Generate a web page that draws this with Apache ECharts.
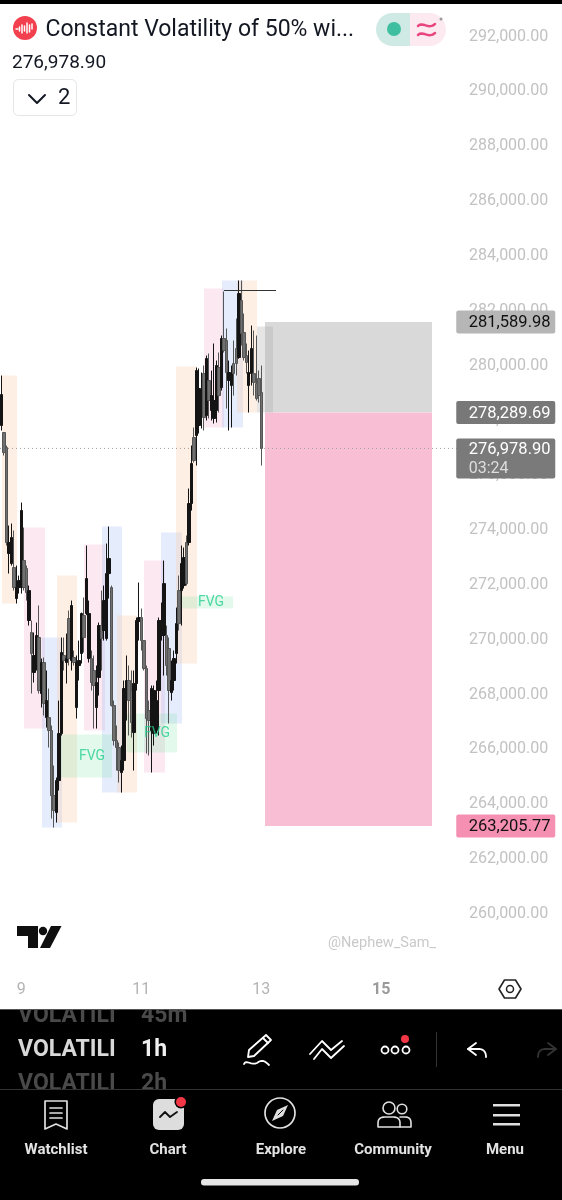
<!DOCTYPE html>
<html><head><meta charset="utf-8">
<style>html,body{margin:0;padding:0;background:#fff}#c{width:562px;height:1200px}</style>
<script src="https://cdn.jsdelivr.net/npm/echarts@6/dist/echarts.min.js"></script>
</head><body><div id="c"></div>
<script>
// ---- data ----
const priceTicksMin = 260000, priceTicksMax = 292000, priceStep = 2000;
const dayLabels = {8:'9', 56:'11', 104:'13', 152:'15'}; // candle slot -> day label
const slotCount = 183;
const opens = [277813,277558,277011,273145,272780,272634,271503,271905,271905,272889,272597,270702,270264,268806,269134,270082,268040,269170,267164,267164,266690,264319,263699,264866,266581,269426,269170,270775,269243,269353,267529,269061,269499,270884,270957,269316,269316,268879,267529,268623,270519,270337,270046,272415,271905,267602,266325,266070,265159,265596,268222,268514,268149,266617,268405,270666,270811,269972,268952,267419,266690,266581,266690,268149,270155,270155,270155,269681,268076,268514,269499,271795,271795,271978,273546,273546,274969,277376,277448,277813,278141,279709,278178,279454,278360,278069,278360,279928,279199,280986,280913,279454,279272,280074,280621,280293,282372,281205,280366,279272,279709,279709,279345,279527,279017];
const closes = [278943,276828,273546,273546,273729,271905,271905,272160,274713,271905,271722,271795,269499,269426,270155,268149,269170,267675,267784,266690,264319,263772,264866,266581,269535,269243,269316,269316,271249,269170,269170,269243,270957,270082,272233,270957,268441,268332,268441,270519,270046,271431,272415,272962,267602,266325,266070,265231,265596,268222,268514,267784,266982,268405,270702,270811,269972,268952,267128,267055,268222,268149,267784,270702,270702,272050,269061,268149,268514,269316,270592,270592,272780,272999,272050,274969,276427,276536,279819,279162,279090,278105,280256,278725,278907,278725,280001,278907,280986,280548,279746,279746,279709,279709,280074,282627,281168,280293,280110,279746,280621,279381,278798,278907,276978.9];
const lows = [277631,276719,273437,272415,272707,271795,271322,271686,271686,271795,271431,270519,268040,268441,268879,268040,267529,267237,266799,266070,263481,263152,263335,264502,266508,268879,268405,269061,268879,269061,267128,268514,269134,269535,270900,269170,268149,266763,266763,267966,268879,269972,269972,271503,267566,266143,265231,264794,264429,265231,267055,266508,266435,265231,268149,269972,269608,268879,265852,265779,265159,266143,266581,266508,269972,268696,268696,266946,267784,268149,269134,270337,270519,271868,271978,273437,274713,276463,276354,277521,277704,277631,277996,278069,277996,277886,277923,278287,279090,280475,278433,277631,277740,278907,279636,280250,280730,280183,279709,278287,279272,278907,278725,278652,276354];
const highs = [279636,277558,277084,274166,274239,273984,272707,272342,275005,274093,272707,271978,270702,270264,270629,271249,269316,269353,268879,268222,266872,265414,264976,267784,270082,270082,270228,271066,271431,269608,269426,269972,270993,271540,273437,271431,269608,269426,269061,270629,271795,271978,273510,274130,271978,267784,266872,266253,266143,268514,269426,269061,268879,268879,270811,272087,271139,269972,269061,267784,268332,268332,268514,270811,271358,272889,270519,270082,269243,269608,271176,272342,273437,273364,273801,275516,277084,277740,279928,279892,279746,280001,280366,280439,279819,280804,280183,280475,281096,282700,281351,280183,280001,280913,281716,283102,283102,281898,280804,280548,281460,281278,281096,279819,280001];

// hours after the start of day 9
const boxStart = [-7.6,1.2,8.4,14.4,25.2,32.4,38.4,49.2,56,62,73.2,80.4,86.4,94.4];
const boxEnd   = [-1.6,9.6,16.4,22.4,33.6,40.4,46.4,57.6,64.4,70.4,81.2,88.8,94.4,100.8];
const boxTop   = [279636,274093,270082,272342,273473,274130,270884,272889,273911,279965,282810,283102,283102,281424];
const boxBottom= [271322,266763,263152,263335,266690,264429,264429,265159,266946,269134,277740,277740,278287,278287];
const boxKind  = [0,1,2,0,1,2,0,1,2,0,1,2,0,3];
const boxFills = ['rgba(253,205,170,0.32)','rgba(245,190,215,0.36)','rgba(175,195,245,0.32)','rgba(170,170,170,0.3)'];

const fvgStart = [15.6,42.4,64.4];
const fvgEnd   = [36.4,62.4,84.8];
const fvgTop   = [266545,267310,271577];
const fvgBottom= [264976,265888,271139];
const fvgLabelHour = [28.4,54.4,76];
const fvgLabelPrice = [265760,266600,271358];

const tradeStart = [97.6,97.6];
const tradeEnd = [164.4,164.4];
const tradeTop = [281589.98,278289.69];
const tradeBottom = [278289.69,263205.77];
const tradeFills = ['#d9d9d9','#f8bfd4'];

const levelHours = [81.2,102];
const levelPrice = [282737,282737];
const lastPrice = 276978.90;

const tagPrices = [281589.98,278289.69,276978.90,263205.77];
const tagFills = ['#b6b6b6','#787878','#7a7a7a','#f590b2'];
const tagInks = ['#111111','#ffffff','#ffffff','#111111'];

// ---- build ----
const categories = [];
for (let i = 0; i < slotCount; i++) categories.push(dayLabels[i] || '');
const candles = opens.map((o, i) => [o, closes[i], lows[i], highs[i]]);
const fmt = v => v.toLocaleString('en-US', {minimumFractionDigits: 2, maximumFractionDigits: 2});
const FONT = 'Roboto';

function rectItem(fillOf) {
  return function (params, api) {
    const a = api.coord([api.value(0), api.value(2)]);
    const b = api.coord([api.value(1), api.value(3)]);
    return {type: 'rect', shape: {x: a[0], y: a[1], width: b[0] - a[0], height: b[1] - a[1]},
      style: {fill: fillOf(params.dataIndex)}};
  };
}
function rows(s, e, t, b) { return s.map((v, i) => [v, e[i], t[i], b[i]]); }

// page furniture
const W = '#ffffff', G = [];
const txt = (x, y, text, font, fill, align) => G.push({type: 'text', z: 20, style: {x, y: y + 2, text, font, fill, align: align || 'left', verticalAlign: 'middle'}});
const rect = (x, y, w, h, fill, r, stroke) => G.push({type: 'rect', z: 20, shape: {x, y, width: w, height: h, r: r || 0}, style: {fill, stroke: stroke || null, lineWidth: stroke ? 1 : 0}});
const circ = (cx, cy, r, fill, stroke, lw) => G.push({type: 'circle', z: 20, shape: {cx, cy, r}, style: {fill: fill || 'none', stroke: stroke || null, lineWidth: lw || 1}});
// small outline helper: M L H V Q C Z in page pixels, curves flattened to points
function path(d, fill, stroke, lw) {
  const tok = d.match(/[MLHVQCZ]|-?[\d.]+/g); let i = 0, cur = [0, 0], pts = [], closed = false;
  const n = () => parseFloat(tok[i++]);
  const flush = () => {
    if (pts.length > 1) G.push({type: (closed || fill) ? 'polygon' : 'polyline', z: 20, shape: {points: pts},
      style: {fill: fill || null, stroke: stroke || null, lineWidth: lw || 1, lineCap: 'round', lineJoin: 'round'}});
    pts = []; closed = false;
  };
  let cmd = null;
  while (i < tok.length) {
    if (/[A-Z]/.test(tok[i])) cmd = tok[i++];
    if (cmd === 'M') { flush(); cur = [n(), n()]; pts.push(cur); cmd = 'L'; }
    else if (cmd === 'L') { cur = [n(), n()]; pts.push(cur); }
    else if (cmd === 'H') { cur = [n(), cur[1]]; pts.push(cur); }
    else if (cmd === 'V') { cur = [cur[0], n()]; pts.push(cur); }
    else if (cmd === 'Q') { const a = [n(), n()], b = [n(), n()], s = cur;
      for (let t = 0.125; t <= 1; t += 0.125) pts.push([(1-t)*(1-t)*s[0]+2*(1-t)*t*a[0]+t*t*b[0], (1-t)*(1-t)*s[1]+2*(1-t)*t*a[1]+t*t*b[1]]);
      cur = b; }
    else if (cmd === 'C') { const a = [n(), n()], b = [n(), n()], c = [n(), n()], s = cur;
      for (let t = 0.125; t <= 1; t += 0.125) { const u = 1-t; pts.push([u*u*u*s[0]+3*u*u*t*a[0]+3*u*t*t*b[0]+t*t*t*c[0], u*u*u*s[1]+3*u*u*t*a[1]+3*u*t*t*b[1]+t*t*t*c[1]]); }
      cur = c; }
    else if (cmd === 'Z') { closed = true; flush(); }
  }
  flush();
}

rect(0, 0, 562, 4, '#000');
circ(25, 28, 12, '#f2404e');
path('M16 29H18M19.500 27V31M22 25V33M24.500 26V31M27 23V33M29.500 25V32M32 24V29', null, W, 1.5);
txt(45.500, 28, 'Constant Volatility of 50% wi...', '400 23px Roboto', '#131722');
txt(12, 61.500, '276,978.90', '400 19px Roboto', '#131722');
rect(13.500, 79.500, 63, 36, W, 5, '#e6e6e6');
path('M29 95L37 103L45 95', null, '#131722', 2);
txt(58, 96.500, '2', '400 22px Roboto', '#131722');
rect(376, 13, 34, 33, '#cfe9e4', [16.5, 0, 0, 16.5]);
rect(410, 13, 36, 33, '#fde9f0', [0, 16.5, 16.5, 0]);
circ(394, 29, 7, '#3fbfa0');
path('M418 26C422 21 429 30 435 24M418 35C422 30 429 39 435 33', null, '#e8457f', 2.5);
circ(441, 19, 1.5, '#9a9a9a');
// tradingview mark and watermark
path('M17 926H38V948H28V936H17Z', '#0f0f0f');
circ(43, 931, 4.200, '#0f0f0f');
path('M51 926H61.500L50 948H40Z', '#0f0f0f');
txt(328, 941, '@Nephew_Sam_', '400 14.500px Roboto', '#c9c9c9');
path('M504.500 980H515.500L521 989L515.500 998H504.500L499 989Z', null, '#222', 1.6);
circ(510, 989, 3.500, null, '#222', 1.5);
// lower panel
rect(0, 1009, 562, 191, '#000');
txt(18, 1014, 'VOLATILI', 'bold 23px Roboto', '#4a4a4a');
txt(141, 1014, '45m', 'bold 23px Roboto', '#4a4a4a');
txt(18, 1082, 'VOLATILI', 'bold 23px Roboto', '#4a4a4a');
txt(141, 1082, '2h', 'bold 23px Roboto', '#4a4a4a');
txt(18, 1048, 'VOLATILI', 'bold 23px Roboto', '#d8d8d8');
txt(141, 1048, '1h', 'bold 23px Roboto', '#f0f0f0');
rect(0, 1000, 562, 9, '#fff');
rect(0, 1009, 562, 1, '#555');
rect(0, 1089, 562, 111, '#000');
rect(0, 1089, 562, 1, '#333');
path('M249 1050L266 1035L271 1040L254 1056L248 1057ZM263 1038L268 1043', null, W, 1.8);
path('M244 1064C246 1059 252 1066 257 1063C262 1059 265 1061 269 1065', null, W, 1.8);
path('M310 1054L322 1041L331 1050L342 1041M314 1059L322 1049L331 1058L344 1046', null, W, 1.8);
circ(385, 1050, 3.500, null, W, 1.8); circ(395, 1050, 3.500, null, W, 1.8); circ(406, 1050, 3.500, null, W, 1.8);
circ(405, 1039, 4, '#f23645');
rect(436, 1032, 1, 35, '#333');
path('M476 1043L468 1049L476 1055M468 1049H480Q486 1050 486 1057', null, W, 1.8);
path('M548 1043L556 1049L548 1055M556 1049H544Q538 1050 538 1057', null, '#333', 1.8);
path('M45 1101H67V1129L56 1124L45 1129ZM50 1108H62M50 1113H62M50 1118H62', null, '#e0e0e0', 1.7);
rect(153, 1099, 31, 31, '#dddddd', 6);
path('M160 1117L165 1112L170 1117L177 1112', null, '#111', 1.8);
circ(181, 1102, 6.500, '#000'); circ(181, 1102, 5, '#f23645');
circ(280, 1113, 15, null, '#e0e0e0', 1.7);
path('M272 1121L277 1110L288 1105L283 1116Z', '#e0e0e0');
path('M278 1115L283 1110', null, '#000', 1);
circ(389, 1108, 6, null, '#e0e0e0', 1.6); circ(402, 1109, 4.800, null, '#e0e0e0', 1.6);
path('M378 1127V1123Q378 1117 385 1117H393Q400 1117 400 1123V1127ZM400 1117H405Q411 1117 411 1123V1127H400', null, '#e0e0e0', 1.6);
rect(493, 1104, 27, 2.500, '#e0e0e0'); rect(493, 1114, 27, 2.500, '#e0e0e0'); rect(493, 1123, 27, 2.500, '#e0e0e0');
const nav = [[56,'Watchlist'],[168,'Chart'],[281,'Explore'],[393,'Community'],[505,'Menu']];
nav.forEach(n => txt(n[0], 1148, n[1], 'bold 15px Roboto', '#e3e3e3', 'center'));
rect(201, 1179, 158, 6.500, '#e6e6e6', 3);

const chart = echarts.init(document.getElementById('c'), null, {renderer: 'canvas', width: 562, height: 1200});
chart.setOption({
  animation: false,
  backgroundColor: '#fff',
  grid: {left: 0, top: 36.5, width: 457.5, height: 877.5, containLabel: false},
  xAxis: [
    {type: 'category', data: categories, boundaryGap: true,
     axisLine: {show: false}, axisTick: {show: false}, splitLine: {show: false},
     axisLabel: {interval: (i, v) => v !== '', margin: 67.5, fontFamily: FONT, fontSize: 16, color: '#b4b4b4',
       formatter: v => v === '15' ? '{b|15}' : v,
       rich: {b: {fontFamily: FONT, fontSize: 16, fontWeight: 'bold', color: '#9a9a9a'}}}},
    {type: 'value', min: -8.4, max: 174.6, show: false, splitLine: {show: false}}
  ],
  yAxis: {type: 'value', position: 'right', min: priceTicksMin, max: priceTicksMax, interval: priceStep,
    axisLine: {show: false}, axisTick: {show: false}, splitLine: {show: false},
    axisLabel: {margin: 11.5, fontFamily: FONT, fontSize: 16, color: '#c2c2c2', formatter: v => fmt(v)}},
  series: [
    {type: 'custom', name: 'trade', xAxisIndex: 1, z: 1, silent: true, encode: {x: [0, 1], y: [2, 3]},
     data: rows(tradeStart, tradeEnd, tradeTop, tradeBottom), renderItem: rectItem(i => tradeFills[i])},
    {type: 'custom', name: 'zones', xAxisIndex: 1, z: 2, silent: true, encode: {x: [0, 1], y: [2, 3]},
     data: rows(boxStart, boxEnd, boxTop, boxBottom), renderItem: rectItem(i => boxFills[boxKind[i]])},
    {type: 'custom', name: 'fvg', xAxisIndex: 1, z: 3, silent: true, encode: {x: [0, 1], y: [2, 3]},
     data: rows(fvgStart, fvgEnd, fvgTop, fvgBottom), renderItem: rectItem(() => 'rgba(110,225,160,0.2)')},
    {type: 'line', name: 'last', xAxisIndex: 1, z: 3, silent: true, symbol: 'none',
     data: [[-8.4, lastPrice], [174.6, lastPrice]], lineStyle: {color: '#9c9c9c', width: 1, type: [1, 3]}},
    {type: 'candlestick', name: 'price', z: 5, xAxisIndex: 0, barWidth: 3, data: candles, clip: false,
     itemStyle: {color: '#141414', color0: '#707070', borderColor: '#141414', borderColor0: '#555555', borderWidth: 1}},
    {type: 'line', name: 'level', xAxisIndex: 1, z: 6, silent: true, symbol: 'none',
     data: levelHours.map((h, i) => [h, levelPrice[i]]), lineStyle: {color: '#333333', width: 1}},
    {type: 'scatter', name: 'fvgText', xAxisIndex: 1, z: 7, silent: true, symbolSize: 0,
     data: fvgLabelHour.map((h, i) => [h, fvgLabelPrice[i]]),
     label: {show: true, position: 'inside', formatter: 'FVG', fontFamily: FONT, fontSize: 14, color: '#25d08f', padding: [3, 0, 0, 0]}},
    {type: 'custom', name: 'tags', xAxisIndex: 1, z: 8, silent: true, encode: {x: 0, y: 1},
     data: tagPrices.map(p => [174.1, p]),
     renderItem: function (params, api) {
       const i = params.dataIndex, c = api.coord([api.value(0), api.value(1)]);
       const two = i === 2, top = c[1] + (two ? -10 : -11.5), h = two ? 40 : 23;
       const kids = [
         {type: 'rect', shape: {x: c[0], y: top, width: 99, height: h, r: 2}, style: {fill: tagFills[i]}},
         {type: 'text', style: {x: c[0] + 12.5, y: c[1] + 1.2, text: fmt(tagPrices[i]), font: '400 16.500px Roboto', fill: tagInks[i], verticalAlign: 'middle'}}
       ];
       if (two) kids.push({type: 'text', style: {x: c[0] + 12.5, y: c[1] + 20.5, text: '03:24', font: '400 16px Roboto', fill: '#dddddd', verticalAlign: 'middle'}});
       return {type: 'group', children: kids};
     }}
  ],
  graphic: {elements: G}
});
</script></body></html>
